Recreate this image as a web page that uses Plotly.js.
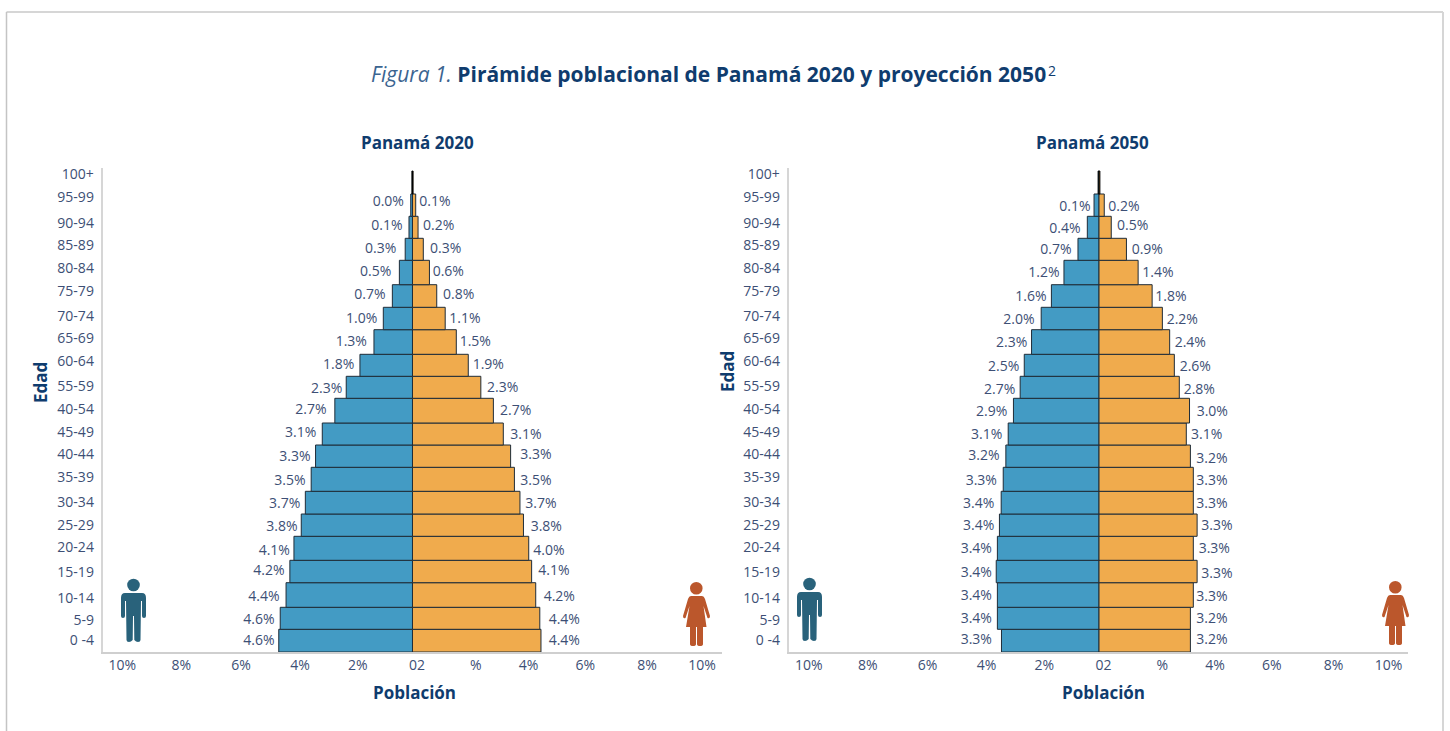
<!DOCTYPE html>
<html><head><meta charset="utf-8">
<script src="https://cdn.plot.ly/plotly-3.0.1.min.js"></script>
<style>html,body{margin:0;padding:0;background:#fff}#c{width:1450px;height:731px}</style>
</head><body><div id="c"></div>
<script>
// ---- data (bottom row first) ----
const ageLabels = ['0 -4','5-9','10-14','15-19','20-24','25-29','30-34','35-39','40-44','45-49','40-54','55-59','60-64','65-69','70-74','75-79','80-84','85-89','90-94','95-99','100+'];
const men2020   = [4.58,4.53,4.33,4.20,4.06,3.81,3.67,3.47,3.32,3.09,2.66,2.27,1.80,1.32,1.00,0.69,0.45,0.25,0.12,0.06,0.02];
const women2020 = [4.40,4.36,4.22,4.08,3.98,3.80,3.68,3.49,3.36,3.11,2.77,2.34,1.91,1.50,1.12,0.83,0.58,0.37,0.19,0.11,0.02];
const men2050   = [3.34,3.48,3.48,3.52,3.48,3.41,3.35,3.28,3.19,3.11,2.93,2.70,2.56,2.31,1.98,1.63,1.20,0.72,0.40,0.17,0.03];
const women2050 = [3.13,3.13,3.23,3.36,3.23,3.36,3.23,3.23,3.13,2.99,3.10,2.75,2.58,2.42,2.17,1.82,1.34,0.94,0.42,0.18,0.03];
const menText2020   = ['4.6%','4.6%','4.4%','4.2%','4.1%','3.8%','3.7%','3.5%','3.3%','3.1%','2.7%','2.3%','1.8%','1.3%','1.0%','0.7%','0.5%','0.3%','0.1%','0.0%'];
const womenText2020 = ['4.4%','4.4%','4.2%','4.1%','4.0%','3.8%','3.7%','3.5%','3.3%','3.1%','2.7%','2.3%','1.9%','1.5%','1.1%','0.8%','0.6%','0.3%','0.2%','0.1%'];
const menText2050   = ['3.3%','3.4%','3.4%','3.4%','3.4%','3.4%','3.4%','3.3%','3.2%','3.1%','2.9%','2.7%','2.5%','2.3%','2.0%','1.6%','1.2%','0.7%','0.4%','0.1%'];
const womenText2050 = ['3.2%','3.2%','3.3%','3.3%','3.3%','3.3%','3.3%','3.3%','3.2%','3.1%','3.0%','2.8%','2.6%','2.4%','2.2%','1.8%','1.4%','0.9%','0.5%','0.2%'];
const xTickText = ['10%','8%','6%','4%','2%','02','%','4%','6%','8%','10%'];

// ---- hand-placed positions in the source figure ----
const xTickPos = [-9.94,-7.92,-5.87,-3.85,-1.87,0.15,2.17,3.97,5.92,8.03,9.92];
const rowEdges = [0,22.7,44.7,69.3,91.7,115.7,138,160.7,184.7,207,229,253.7,275.7,297.7,322.3,344.7,367.3,391.7,413.7,435.7,458,481];
const yTickPos = [12,32,54,80,105,127,150,175,198,220,243,266,291,314,336,361,384,407,429,455,478];
const menLabelX2020   = [259,259,264,269,274.3,282,284.7,290,295,300.7,311,326.7,338.7,351.3,361.7,370,375.7,380.7,387,388.3];
const menLabelY2020   = [12,33,56,82,102,126,149,172,196,220,242.7,264,287.7,311,334,358,381,404,427,451];
const womenLabelX2020 = [564.3,564.3,559.3,554,549,546.3,541,536,536,526,515.7,502.7,488.3,475.3,465,458.7,448.3,445.7,438.7,435];
const womenLabelY2020 = [12,33,56,82,102,126,149,172,198,218,242,264.3,288,311,334,358,381,404,427,451];
const menLabelX2050   = [976.3,976.3,976.3,976.3,976.3,978.7,978.7,981.3,984,986.7,991.7,999.7,1003.7,1011.7,1019,1031,1044,1056,1065,1075];
const menLabelY2050   = [13,34,56.3,79.3,104,127,149,172,197,218,241,263,286,310,333,356,380,403,424,446];
const womenLabelX2050 = [1212,1212,1212,1217,1214.3,1217,1212,1212,1212,1206.7,1212.3,1199.3,1195.3,1190.3,1182.3,1171,1158,1147.3,1132.7,1124];
const womenLabelY2050 = [13,34,56,79,104,127,149,172,194,218,241,263,286,310,333,356,380,403,427,446];

// ---- styles ----
const W = 1450, H = 731;
const BLUE='#439bc4', ORANGE='#f0ab4d', OUT='#1f2c38', TXT='#3d4f75', NAVY='#0f3c6e', AX='#cfcfcf';
const FONT='"Open Sans", sans-serif';
const PXPERPCT = 29.2;
const rowMid = rowEdges.slice(0,-1).map((e,i)=>(e+rowEdges[i+1])/2);
const rowH = rowEdges.slice(0,-1).map((e,i)=>rowEdges[i+1]-e);
const lineCols = ageLabels.map((_,i)=> i===ageLabels.length-1 ? '#000' : OUT);

function bar(vals,col,xa,ya,sign){
  return {type:'bar',orientation:'h',x:vals.map(v=>v*sign),y:rowMid,width:rowH,xaxis:xa,yaxis:ya,
    marker:{color:col,line:{color:lineCols,width:1}},hoverinfo:'skip',showlegend:false};
}
function labels(px,py,txt,zero,xa,ya){
  return {type:'scatter',mode:'text',x:px.map(p=>(p-zero)/PXPERPCT),y:py.map(v=>v-1),text:txt,textposition:'middle center',
    textfont:{family:FONT,size:14,color:TXT},xaxis:xa,yaxis:ya,hoverinfo:'skip',showlegend:false,cliponaxis:false};
}
const Z1=412.5, Z2=1099;
const data=[
  bar(men2020,BLUE,'x','y',-1),bar(women2020,ORANGE,'x','y',1),
  bar(men2050,BLUE,'x2','y2',-1),bar(women2050,ORANGE,'x2','y2',1),
  labels(menLabelX2020,menLabelY2020,menText2020,Z1,'x','y'),
  labels(womenLabelX2020,womenLabelY2020,womenText2020,Z1,'x','y'),
  labels(menLabelX2050,menLabelY2050,menText2050,Z2,'x2','y2'),
  labels(womenLabelX2050,womenLabelY2050,womenText2050,Z2,'x2','y2')
];

function xAxis(l,r,zero){
  return {domain:[l/W,r/W],range:[(l-zero)/PXPERPCT,(r-zero)/PXPERPCT],tickmode:'array',tickvals:xTickPos,ticktext:xTickText,
    showgrid:false,zeroline:false,showline:true,linecolor:AX,linewidth:2,ticks:'',ticklabelstandoff:-1,
    tickfont:{family:FONT,size:14,color:TXT},fixedrange:true};
}
function yAxis(anchor){
  return {domain:[(H-652)/H,(H-168)/H],range:[0,484],tickmode:'array',tickvals:yTickPos,ticktext:ageLabels,anchor:anchor,
    showgrid:false,zeroline:false,showline:true,linecolor:'#d6d6d6',linewidth:2,ticks:'outside',ticklen:4,tickcolor:'rgba(0,0,0,0)',
    tickfont:{family:FONT,size:14,color:TXT},fixedrange:true};
}
function note(text,x,y,size,color,angle){
  return {text:text,x:x/W,y:1-y/H,xref:'paper',yref:'paper',xanchor:'center',yanchor:'middle',showarrow:false,
    font:{family:FONT,size:size,color:color},textangle:angle||0};
}
const MAN='M4,15 Q0,15 0,20 L0,38 Q0,40 2,40 Q4,40 4,38 L4,23 L5,23 L5.5,62 Q5.5,64 8,64 Q10,64 11.7,62 L12,38 L13,38 L13.3,62 Q15,64 17,64 Q19.5,64 19.5,62 L20,23 L21,23 L21,38 Q21,40 23,40 Q25,40 25,38 L25,20 Q25,15 21,15 Z';
const WOMAN='M8,14 L19,14 Q21,14 22,17 L27,34 Q27,37 24.5,36 L20.5,24 L23.5,45 L20,45 L20,62 Q20,64 17,64 Q14,64 14,62 L14,45 L13,45 L13,62 Q13,64 10,64 Q7,64 7,62 L7,45 L3,45 L6.5,24 L2.5,36 Q0,37 0,34 L5,17 Q6,14 8,14 Z';
function flip(p){ // y grows upward in pixel-sized shapes
  return p.replace(/(-?[\d.]+),(-?[\d.]+)/g,(m,a,b)=>a+','+(-parseFloat(b)));
}
function icon(x0,y0,path,col,hx,hy,r){
  const base={type:'path',xref:'paper',yref:'paper',xsizemode:'pixel',ysizemode:'pixel',xanchor:x0/W,yanchor:1-y0/H,
    fillcolor:col,line:{width:0}};
  return [Object.assign({},base,{path:flip(path)}),
    {type:'circle',xref:'paper',yref:'paper',xsizemode:'pixel',ysizemode:'pixel',xanchor:x0/W,yanchor:1-y0/H,
     x0:hx-r,x1:hx+r,y0:-(hy+r),y1:-(hy-r),fillcolor:col,line:{width:0}}];
}
function frame(x0,y0,x1,y1,c,w){
  return {type:'line',xref:'paper',yref:'paper',x0:x0/W,x1:x1/W,y0:1-y0/H,y1:1-y1/H,line:{color:c,width:w}};
}
const TEAL='#29627b', RUST='#bb572c';
const layout={
  width:W,height:H,margin:{l:0,r:0,t:0,b:0},paper_bgcolor:'#fff',plot_bgcolor:'rgba(0,0,0,0)',
  barmode:'overlay',bargap:0,showlegend:false,
  xaxis:xAxis(102.7,721.7,Z1),yaxis:yAxis('x'),
  xaxis2:xAxis(788.7,1408.3,Z2),yaxis2:yAxis('x2'),
  annotations:[
    note('<span style="color:#3b6490"><i>Figura 1.</i></span> <b>Pirámide poblacional de Panamá 2020 y proyección 2050</b>',708,74,21,NAVY),
    note('2',1052,70,14,NAVY),
    note('<b>Panamá 2020</b>',417,142,17,NAVY),
    note('<b>Panamá 2050</b>',1092,143,17,NAVY),
    note('<b>Población</b>',414,692,17,NAVY),
    note('<b>Población</b>',1103,692,17,NAVY),
    note('<b>Edad</b>',41,383,17,NAVY,-90),
    note('<b>Edad</b>',727,372,17,NAVY,-90)
  ],
  shapes:[
    frame(6.5,12,1443,12,'#d6d6d6',2),
    frame(6.5,12,6.5,731,'#c4c4c4',1.5),
    frame(1443,12,1443,731,'#d6d6d6',2)
  ].concat(
    icon(121,578,MAN,TEAL,12.5,7,6.3),
    icon(797,577,MAN,TEAL,12.5,7,6.3),
    icon(683,582,WOMAN,RUST,13.3,6.3,6.3),
    icon(1382,581,WOMAN,RUST,13.3,6.3,6.3)
  )
};
Plotly.newPlot('c',data,layout,{displayModeBar:false,staticPlot:true});
</script></body></html>
